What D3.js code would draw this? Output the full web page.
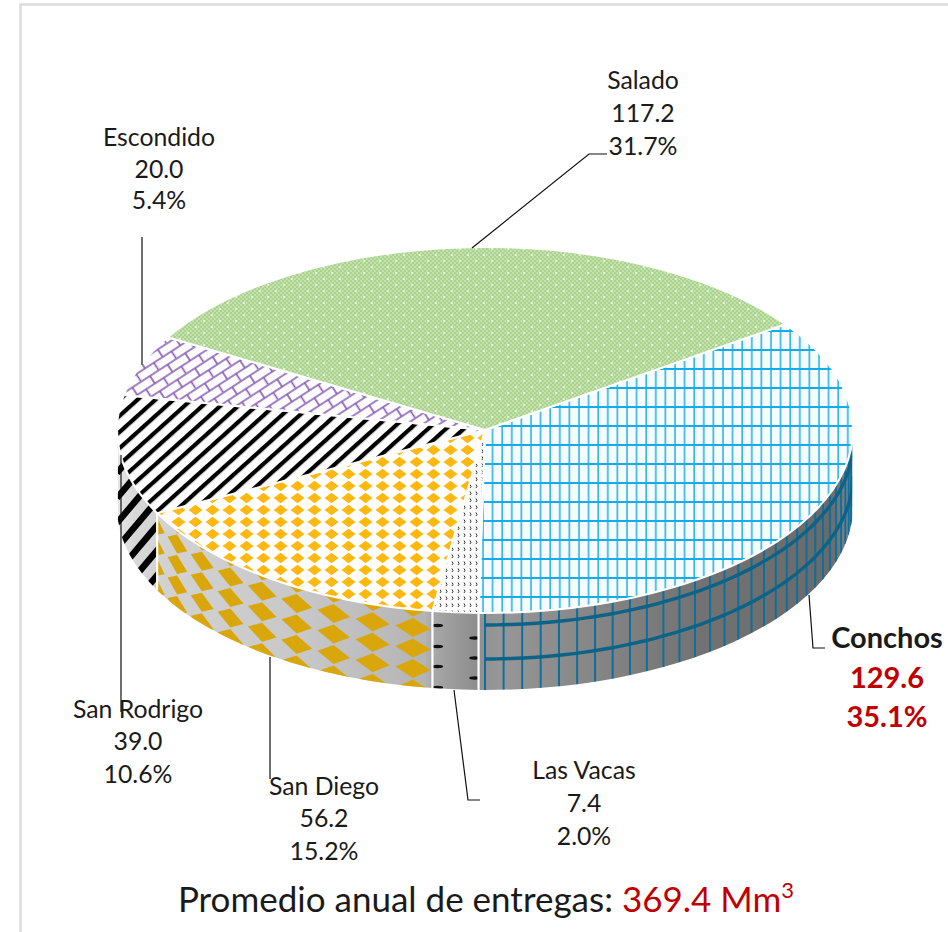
<!DOCTYPE html>
<html>
<head>
<meta charset="utf-8">
<script src="https://cdn.jsdelivr.net/npm/d3@7"></script>
<style>
  body { margin: 0; background: #fff; }
  text { font-family: Lato, "Open Sans", sans-serif; fill: #1a1a1a; }
</style>
</head>
<body>
<div id="chart"></div>
<script>
// values
var names = ["Conchos", "Las Vacas", "San Diego", "San Rodrigo", "Escondido", "Salado"];
var values = [129.6, 7.4, 56.2, 39.0, 20.0, 117.2];
var percents = ["35.1%", "2.0%", "15.2%", "10.6%", "5.4%", "31.7%"];
var totalLabel = "369.4 Mm";

var svgWidth = 948, svgHeight = 932;
var cx = 485, cy = 430, rx = 368, ry = 183, depth = 77;
var rad = Math.PI / 180;

// where each label sits: centre x and the three baselines
var labelPos = {
  "Conchos": { x: 887, y: [648, 688, 727] },
  "Las Vacas": { x: 584, y: [779, 812, 845] },
  "San Diego": { x: 324, y: [795, 827, 860] },
  "San Rodrigo": { x: 138, y: [718, 750, 783] },
  "Escondido": { x: 159, y: [146, 178, 209] },
  "Salado": { x: 643, y: [89, 122, 155] }
};

var leaders = {
  "Conchos": [[809, 595], [813, 648], [825, 648]],
  "Las Vacas": [[454, 690], [468, 800], [480, 800]],
  "San Diego": [[270, 657], [270, 779]],
  "San Rodrigo": [[121, 455], [121, 712]],
  "Escondido": [[142, 237], [142, 365]],
  "Salado": [[472, 248], [589, 154], [607, 154]]
};

var svg = d3.select("#chart").append("svg")
  .attr("width", svgWidth)
  .attr("height", svgHeight);

var defs = svg.append("defs");

// frame
var line = d3.line();
svg.append("path")
  .attr("d", line([[20.5, svgHeight], [20.5, 4.5], [svgWidth, 4.5]]))
  .attr("fill", "none")
  .attr("stroke", "#dcdcdc")
  .attr("stroke-width", 2.5);

var pie = d3.pie().sort(null)
  .startAngle(54.7 * rad)
  .endAngle((54.7 + 360) * rad);
var slices = pie(values);

function topPoint(a, d) {
  return [cx + rx * Math.sin(a), cy - ry * Math.cos(a) + (d || 0)];
}

function slicePath(s) {
  var p0 = topPoint(s.startAngle), p1 = topPoint(s.endAngle);
  var large = s.endAngle - s.startAngle > Math.PI ? 1 : 0;
  return `M${cx},${cy}L${p0[0]},${p0[1]}A${rx},${ry} 0 ${large} 1 ${p1[0]},${p1[1]}Z`;
}

function wallPath(a0, a1) {
  var p0 = topPoint(a0), p1 = topPoint(a1), p2 = topPoint(a1, depth), p3 = topPoint(a0, depth);
  return `M${p0[0]},${p0[1]}A${rx},${ry} 0 0 1 ${p1[0]},${p1[1]}L${p2[0]},${p2[1]}A${rx},${ry} 0 0 0 ${p3[0]},${p3[1]}Z`;
}

// ---- top face patterns
function makePattern(id, w, h, transform) {
  var p = defs.append("pattern")
    .attr("id", id)
    .attr("patternUnits", "userSpaceOnUse")
    .attr("width", w)
    .attr("height", h);
  if (transform) p.attr("patternTransform", transform);
  return p;
}

// Conchos grid
var pGrid = makePattern("p-conchos", 9.6, 19);
pGrid.append("rect").attr("width", 9.6).attr("height", 19).attr("fill", "#f6fbfe");
pGrid.append("line").attr("x1", 3).attr("x2", 3).attr("y1", 0).attr("y2", 19)
  .attr("stroke", "#2db3e8").attr("stroke-width", 1.6);
pGrid.append("line").attr("x1", 0).attr("x2", 9.6).attr("y1", 8).attr("y2", 8)
  .attr("stroke", "#12ade8").attr("stroke-width", 2);

// Las Vacas tiny marks
var pDots = makePattern("p-vacas", 6, 7);
pDots.append("rect").attr("width", 6).attr("height", 7).attr("fill", "#fbfbfb");
pDots.append("path").attr("d", "M2,1.5 L3,3.5 L2,5").attr("fill", "none")
  .attr("stroke", "#333").attr("stroke-width", 1);

// San Diego diamonds
var pDiamond = makePattern("p-diego", 17, 12);
pDiamond.append("rect").attr("width", 17).attr("height", 12).attr("fill", "#fefefe");
pDiamond.append("path").attr("d", "M1.5,6 L8.5,0.8 L15.5,6 L8.5,11.2Z").attr("fill", "#ffb80f");

// San Rodrigo stripes
var pStripe = makePattern("p-rodrigo", 12, 12, "rotate(-42)");
pStripe.append("rect").attr("width", 12).attr("height", 12).attr("fill", "#fff");
pStripe.append("rect").attr("y", 3).attr("width", 12).attr("height", 4.2).attr("fill", "#000");

// Escondido bricks
var pBrick = makePattern("p-escondido", 21, 18, "rotate(-33)");
pBrick.append("rect").attr("width", 21).attr("height", 18).attr("fill", "#fdfcfe");
pBrick.append("path")
  .attr("d", "M0,1 H21 M0,10 H21 M5,1 V10 M15.5,10 V18")
  .attr("fill", "none")
  .attr("stroke", "#8558b2")
  .attr("stroke-width", 1.6);

// Salado fine checker with pale dots
var pCheck = makePattern("p-salado", 16, 12);
pCheck.append("rect").attr("width", 16).attr("height", 12).attr("fill", "#a9d38d");
d3.range(0, 16, 2).forEach(function(i) {
  d3.range(0, 12, 2).forEach(function(j) {
    if ((i + j) % 4 === 0) {
      pCheck.append("rect").attr("x", i).attr("y", j).attr("width", 2).attr("height", 2).attr("fill", "#c4e1af");
    }
  });
});
pCheck.append("circle").attr("cx", 4).attr("cy", 3).attr("r", 1).attr("fill", "#eef8e6");
pCheck.append("circle").attr("cx", 12).attr("cy", 9).attr("r", 1).attr("fill", "#eef8e6");

var patternId = ["p-conchos", "p-vacas", "p-diego", "p-rodrigo", "p-escondido", "p-salado"];

// ---- wall shading, one gradient across the whole front
var wallGrad = defs.append("linearGradient")
  .attr("id", "wall-grad")
  .attr("gradientUnits", "userSpaceOnUse")
  .attr("x1", cx - rx).attr("x2", cx + rx)
  .attr("y1", 0).attr("y2", 0);
[[117, "#e8e8e8"], [135, "#d8d8d8"], [165, "#d2d2d2"], [300, "#c8c8c8"], [425, "#b4b4b4"],
 [432, "#a8a8a8"], [475, "#8e8e8e"], [500, "#979797"], [700, "#727272"], [830, "#6a6a6a"], [853, "#8a8a8a"]]
  .forEach(function(s) {
    wallGrad.append("stop")
      .attr("offset", (s[0] - (cx - rx)) / (2 * rx))
      .attr("stop-color", s[1]);
  });

// visible front of the cylinder
var wallFrom = 94 * rad, wallTo = 266 * rad;
var walls = slices
  .map(function(s, i) {
    return { i: i, a0: Math.max(s.startAngle, wallFrom), a1: Math.min(s.endAngle, wallTo) };
  })
  .filter(function(w) { return w.a1 > w.a0; });

var wallGroup = svg.append("g");

walls.forEach(function(w) {
  var clipId = "wall-clip-" + w.i;
  defs.append("clipPath").attr("id", clipId)
    .append("path").attr("d", wallPath(w.a0, w.a1));

  wallGroup.append("path")
    .attr("d", wallPath(w.a0, w.a1))
    .attr("fill", "url(#wall-grad)");

  var deco = wallGroup.append("g").attr("clip-path", `url(#${clipId})`);
  if (names[w.i] === "Conchos") drawGridWall(deco);
  if (names[w.i] === "Las Vacas") drawMarksWall(deco);
  if (names[w.i] === "San Diego") drawDiamondWall(deco);
  if (names[w.i] === "San Rodrigo") drawStripeWall(deco);
});

// pattern on the wall follows the curve, so it is worked out in angle and depth
function drawGridWall(g) {
  d3.range(180, 90, -2.9).forEach(function(deg) {
    var a = deg * rad;
    g.append("path")
      .attr("d", line([topPoint(a, 0), topPoint(a, depth)]))
      .attr("stroke", "#0f6f9c").attr("stroke-width", 2).attr("fill", "none");
  });
  [12, 46].forEach(function(d) {
    var pts = d3.range(90, 181, 2).map(function(deg) { return topPoint(deg * rad, d); });
    g.append("path")
      .attr("d", d3.line().curve(d3.curveCatmullRom)(pts))
      .attr("stroke", "#0b6488").attr("stroke-width", 3.4).attr("fill", "none");
  });
}

function drawMarksWall(g) {
  [[187.4, [14, 35, 55, 76]], [181.6, [25, 45, 65]]].forEach(function(col) {
    col[1].forEach(function(d) {
      var p = topPoint(col[0] * rad, d);
      g.append("ellipse")
        .attr("cx", p[0]).attr("cy", p[1])
        .attr("rx", 5.5).attr("ry", 1.7)
        .attr("fill", "#111");
    });
  });
}

function drawDiamondWall(g) {
  var hw = 2.8, hh = 9.5;
  d3.range(0, 11).forEach(function(k) {
    var deg = 191.3 + k * 6.5;
    var d0 = 18 - k * 0.6;
    d3.range(-2, 5).forEach(function(row) {
      var d = d0 + row * 20.5;
      var pts = [
        topPoint((deg - hw) * rad, d),
        topPoint(deg * rad, d - hh),
        topPoint((deg + hw) * rad, d),
        topPoint(deg * rad, d + hh)
      ];
      g.append("path")
        .attr("d", line(pts) + "Z")
        .attr("fill", "#d9a70c");
    });
  });
}

function drawStripeWall(g) {
  d3.range(-138, 100, 25).forEach(function(c) {
    var pts = [
      topPoint(240 * rad, 5 * (240 - 243.8) + c),
      topPoint(270 * rad, 5 * (270 - 243.8) + c)
    ];
    g.append("path")
      .attr("d", line(pts))
      .attr("stroke", "#000").attr("stroke-width", 6.5).attr("fill", "none");
  });
}

// white seams between the wall pieces
walls.slice(1).forEach(function(w) {
  wallGroup.append("path")
    .attr("d", line([topPoint(w.a0, 0), topPoint(w.a0, depth)]))
    .attr("stroke", "#fff").attr("stroke-width", 2.2);
});

// ---- top face
svg.append("g").selectAll("path")
  .data(slices)
  .enter()
  .append("path")
  .attr("d", slicePath)
  .attr("fill", function(d, i) { return `url(#${patternId[i]})`; })
  .attr("stroke", "#fff")
  .attr("stroke-width", 2)
  .attr("stroke-linejoin", "round");

// ---- leader lines
names.forEach(function(name) {
  svg.append("path")
    .attr("d", line(leaders[name]))
    .attr("fill", "none")
    .attr("stroke", "#111")
    .attr("stroke-width", 1.2);
});

// ---- labels
names.forEach(function(name, i) {
  var pos = labelPos[name];
  var big = name === "Conchos";
  var rows = [name, d3.format(".1f")(values[i]), percents[i]];
  rows.forEach(function(row, r) {
    var t = svg.append("text")
      .attr("x", pos.x)
      .attr("y", pos.y[r])
      .attr("text-anchor", "middle")
      .attr("font-size", big ? 29 : 24.8)
      .attr("font-weight", big ? 700 : 400)
      .text(row);
    if (big && r > 0) t.style("fill", "#c00000");
  });
});

// ---- bottom note
var note = svg.append("text")
  .attr("x", 486)
  .attr("y", 912)
  .attr("text-anchor", "middle")
  .attr("font-size", 35);
note.append("tspan").text("Promedio anual de entregas: ");
note.append("tspan").style("fill", "#c00000").text(totalLabel);
note.append("tspan").style("fill", "#c00000")
  .attr("font-size", 22)
  .attr("dy", -14)
  .text("3");
</script>
</body>
</html>
